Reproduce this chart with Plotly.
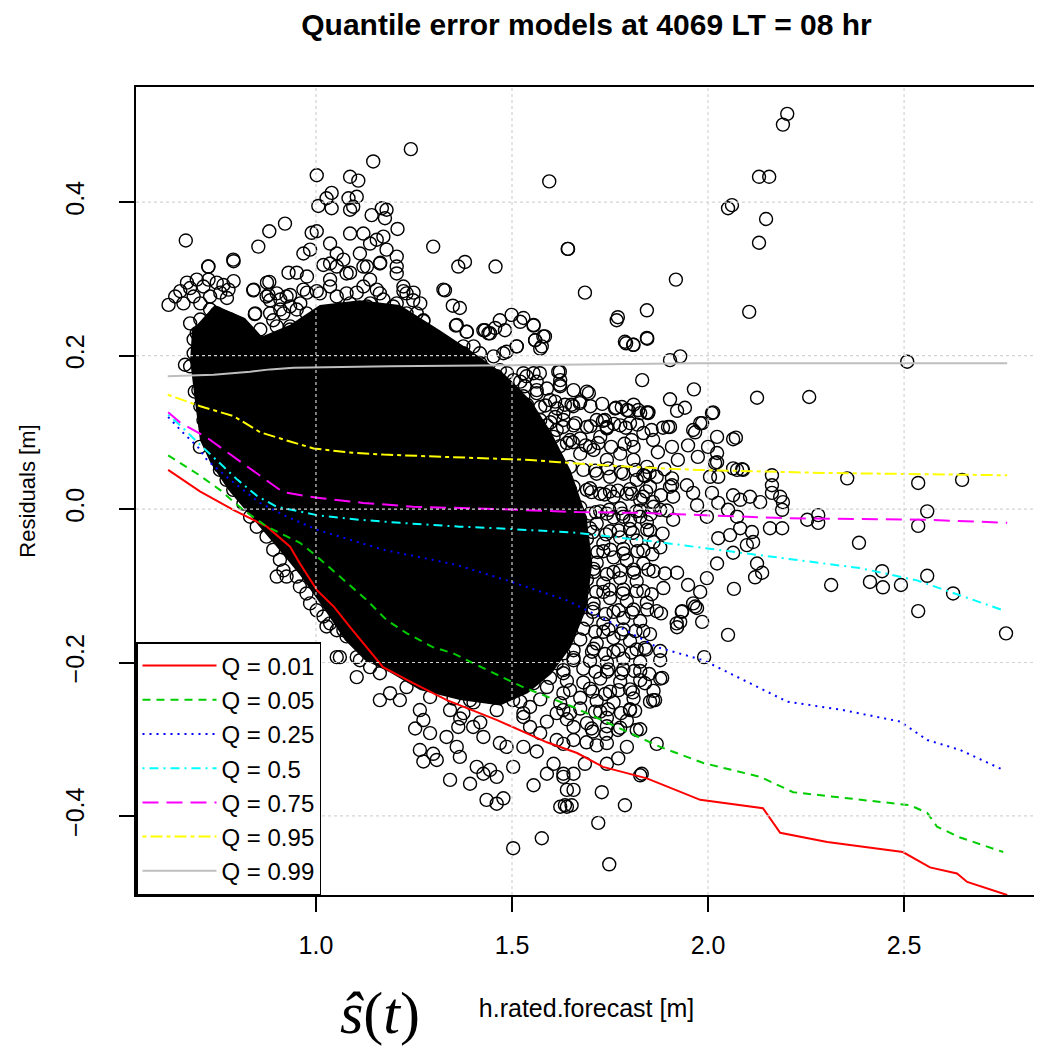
import plotly.graph_objects as go

# ---------------- quantile model lines ----------------
q01_x = [0.623, 0.66, 0.704, 0.789, 0.875, 0.934, 0.959, 1.003, 1.045, 1.087, 1.130, 1.171, 1.248, 1.334, 1.462, 1.589, 1.666, 1.732, 1.844, 1.980, 2.140, 2.184, 2.304, 2.497, 2.566, 2.635, 2.661, 2.763]
q01_y = [0.051, 0.038, 0.023, -0.001, -0.023, -0.049, -0.071, -0.106, -0.127, -0.154, -0.180, -0.206, -0.227, -0.249, -0.275, -0.304, -0.318, -0.336, -0.351, -0.379, -0.390, -0.422, -0.434, -0.447, -0.467, -0.475, -0.486, -0.503]

q05_x = [0.623, 0.70, 0.755, 0.814, 0.875, 0.959, 1.003, 1.061, 1.130, 1.181, 1.232, 1.298, 1.350, 1.401, 1.528, 1.656, 1.768, 1.878, 1.988, 2.133, 2.217, 2.388, 2.515, 2.559, 2.584, 2.643, 2.753]
q05_y = [0.070, 0.045, 0.025, -0.001, -0.023, -0.044, -0.062, -0.088, -0.119, -0.145, -0.162, -0.180, -0.188, -0.201, -0.232, -0.258, -0.284, -0.310, -0.331, -0.349, -0.369, -0.379, -0.386, -0.396, -0.414, -0.428, -0.447]

q25_x = [0.623, 0.66, 0.70, 0.722, 0.781, 0.857, 0.926, 1.003, 1.087, 1.171, 1.258, 1.360, 1.487, 1.640, 1.742, 1.870, 1.988, 2.100, 2.202, 2.344, 2.490, 2.559, 2.643, 2.753]
q25_y = [0.120, 0.100, 0.080, 0.064, 0.038, 0.008, -0.010, -0.027, -0.040, -0.053, -0.062, -0.073, -0.093, -0.119, -0.145, -0.180, -0.197, -0.225, -0.251, -0.262, -0.277, -0.301, -0.314, -0.340]

q50_x = [0.623, 0.66, 0.70, 0.75, 0.80, 0.85, 0.90, 1.003, 1.112, 1.214, 1.367, 1.462, 1.666, 1.872, 2.133, 2.388, 2.533, 2.643, 2.753]
q50_y = [0.123, 0.106, 0.086, 0.062, 0.038, 0.017, 0.003, -0.008, -0.014, -0.018, -0.023, -0.025, -0.031, -0.043, -0.060, -0.077, -0.093, -0.112, -0.132]

q75_x = [0.623, 0.653, 0.722, 0.780, 0.849, 0.916, 0.998, 1.120, 1.248, 1.462, 1.666, 1.827, 2.202, 2.559, 2.763]
q75_y = [0.126, 0.113, 0.093, 0.072, 0.047, 0.022, 0.015, 0.008, 0.003, 0.000, -0.004, -0.005, -0.012, -0.014, -0.018]

q95_x = [0.622, 0.705, 0.790, 0.858, 0.934, 0.994, 1.079, 1.172, 1.325, 1.546, 1.62, 1.80, 1.97, 2.30, 2.763]
q95_y = [0.149, 0.134, 0.121, 0.100, 0.088, 0.079, 0.074, 0.071, 0.068, 0.064, 0.061, 0.055, 0.051, 0.047, 0.044]

q99_x = [0.622, 0.739, 0.832, 0.883, 0.943, 1.070, 1.189, 1.62, 1.97, 2.763]
q99_y = [0.173, 0.175, 0.179, 0.182, 0.184, 0.185, 0.186, 0.188, 0.190, 0.190]

quant_labels = ["Q = 0.01", "Q = 0.05", "Q = 0.25", "Q = 0.5", "Q = 0.75", "Q = 0.95", "Q = 0.99"]

# ---------------- residual cloud ----------------
# heavily overlapping zone of the cloud (circles merge into solid black)
dense_x = [0.684, 0.742, 0.819, 0.862, 0.934, 1.010, 1.112, 1.214, 1.316, 1.393, 1.482, 1.550, 1.600, 1.650, 1.690, 1.705, 1.690, 1.650, 1.600, 1.540, 1.470, 1.367, 1.265, 1.189, 1.125, 1.074, 1.023, 0.959, 0.896, 0.832, 0.776, 0.730, 0.704, 0.691, 0.679]
dense_y = [0.233, 0.266, 0.249, 0.225, 0.240, 0.266, 0.272, 0.266, 0.233, 0.207, 0.175, 0.140, 0.100, 0.050, -0.010, -0.070, -0.130, -0.180, -0.215, -0.240, -0.256, -0.249, -0.236, -0.213, -0.197, -0.171, -0.132, -0.086, -0.047, -0.008, 0.025, 0.061, 0.090, 0.142, 0.194]

upper_left_pts = [
    (0.624, 0.266), (0.641, 0.277), (0.654, 0.284), (0.671, 0.295), (0.679, 0.288), (0.696, 0.299), (0.713, 0.290),
    (0.726, 0.299), (0.747, 0.295), (0.764, 0.292), (0.777, 0.286), (0.790, 0.297), (0.662, 0.268), (0.688, 0.277),
    (0.705, 0.268), (0.730, 0.277), (0.756, 0.282), (0.773, 0.275), (0.726, 0.316), (0.790, 0.323), (0.679, 0.186),
    (0.666, 0.188), (0.696, 0.229), (0.688, 0.221), (0.713, 0.216), (0.747, 0.242), (0.781, 0.247), (0.807, 0.234),
    (0.815, 0.225), (0.798, 0.216), (0.773, 0.212), (0.705, 0.247), (0.730, 0.260), (0.747, 0.255), (0.679, 0.242),
    (0.722, 0.195), (0.756, 0.199), (0.790, 0.195), (0.824, 0.195), (0.841, 0.190), (0.858, 0.216), (0.832, 0.221),
    (0.688, 0.203), (0.713, 0.208), (0.739, 0.212), (0.764, 0.203), (0.790, 0.208), (0.747, 0.182), (0.781, 0.182),
    (0.705, 0.182), (0.722, 0.229), (0.700, 0.155), (0.705, 0.134), (0.713, 0.116), (0.726, 0.090), (0.743, 0.073),
    (0.756, 0.056), (0.704, 0.081), (0.691, 0.153),
]

upper_mid_pts = [
    (0.841, 0.286), (0.875, 0.295), (0.879, 0.279), (0.909, 0.273), (0.934, 0.279), (0.845, 0.255), (0.883, 0.255),
    (0.909, 0.260), (0.934, 0.264), (0.960, 0.268), (0.977, 0.282), (0.951, 0.308), (0.977, 0.303), (0.968, 0.286),
    (1.002, 0.284), (1.019, 0.318), (1.036, 0.299), (1.053, 0.277), (1.087, 0.268), (1.104, 0.282), (1.130, 0.264),
    (1.155, 0.286), (1.172, 0.273), (1.189, 0.255), (1.206, 0.268), (1.223, 0.284), (1.249, 0.282), (1.266, 0.268),
    (1.274, 0.245), (1.257, 0.229), (1.232, 0.238), (1.325, 0.286), (1.138, 0.299), (1.164, 0.321), (1.206, 0.316),
    (1.087, 0.308), (1.053, 0.316), (1.130, 0.316), (0.900, 0.238), (0.934, 0.234), (0.968, 0.225), (0.900, 0.216),
    (0.858, 0.234), (1.002, 0.238), (1.045, 0.242), (1.087, 0.238), (1.121, 0.247), (1.172, 0.251), (1.215, 0.247),
    (1.070, 0.221), (1.104, 0.216), (1.155, 0.221), (1.189, 0.225), (1.223, 0.216), (1.257, 0.212), (1.291, 0.208),
    (1.317, 0.199), (1.019, 0.208), (1.053, 0.199), (1.087, 0.203), (1.130, 0.199), (1.172, 0.199), (1.215, 0.195),
    (1.257, 0.195), (1.300, 0.190), (1.342, 0.195), (0.934, 0.225), (0.951, 0.212), (0.917, 0.208), (0.977, 0.208),
    (0.943, 0.199), (0.900, 0.195), (0.866, 0.199),
    (1.036, 0.346), (1.053, 0.333), (1.070, 0.325), (1.087, 0.359), (1.121, 0.359), (1.138, 0.346), (1.155, 0.351),
    (1.172, 0.355), (1.180, 0.338), (1.112, 0.333), (1.036, 0.320), (1.078, 0.307), (1.121, 0.316), (1.163, 0.320),
    (1.206, 0.329), (1.206, 0.307), (1.223, 0.290), (1.231, 0.281), (1.248, 0.272), (1.257, 0.255), (1.231, 0.255),
    (1.197, 0.264), (1.163, 0.281), (1.121, 0.290), (1.078, 0.281), (1.036, 0.290), (1.010, 0.281), (1.138, 0.268),
    (1.104, 0.255), (1.061, 0.260), (1.019, 0.255), (0.976, 0.255), (0.951, 0.260), (0.925, 0.277), (0.900, 0.281),
    (0.883, 0.272), (0.917, 0.255), (0.934, 0.238), (0.891, 0.246),
]

upper_right_pts = [
    (1.359, 0.240), (1.385, 0.231), (1.427, 0.233), (1.440, 0.229), (1.457, 0.236), (1.482, 0.233), (1.555, 0.240),
    (1.521, 0.244), (1.512, 0.212), (1.559, 0.220), (1.580, 0.225), (1.572, 0.209), (1.767, 0.246), (1.788, 0.218),
    (1.810, 0.214), (1.845, 0.222), (1.618, 0.179), (1.623, 0.160), (1.691, 0.153), (1.674, 0.140), (1.652, 0.136),
    (1.763, 0.131), (1.793, 0.129), (1.822, 0.129), (1.848, 0.126), (1.737, 0.116), (1.742, 0.105), (1.776, 0.109),
    (1.835, 0.099), (1.856, 0.103), (1.805, 0.090), (1.810, 0.081), (1.835, 0.044), (1.529, 0.177), (1.555, 0.177),
    (1.521, 0.166), (1.563, 0.166), (1.533, 0.160), (1.563, 0.155), (1.589, 0.157), (1.512, 0.142), (1.538, 0.136),
    (1.572, 0.133), (1.610, 0.140), (1.635, 0.136), (1.542, 0.112), (1.572, 0.116), (1.589, 0.109), (1.610, 0.120),
    (1.631, 0.116), (1.657, 0.109), (1.691, 0.107), (1.716, 0.116), (1.742, 0.107), (1.674, 0.092), (1.699, 0.081),
    (1.725, 0.094), (1.325, 0.203), (1.351, 0.207), (1.376, 0.203), (1.402, 0.212), (1.419, 0.190), (1.453, 0.199),
    (1.478, 0.203), (1.342, 0.181), (1.368, 0.173), (1.393, 0.181), (1.427, 0.168), (1.461, 0.173), (1.487, 0.177),
    (1.334, 0.151), (1.359, 0.142), (1.393, 0.146), (1.419, 0.133), (1.453, 0.142), (1.478, 0.151), (1.495, 0.125),
    (1.461, 0.116), (1.427, 0.112), (1.385, 0.120), (1.351, 0.116), (1.325, 0.125), (1.487, 0.160), (1.402, 0.160),
    (1.444, 0.155), (1.368, 0.160), (1.401, 0.177), (1.435, 0.173), (1.469, 0.181), (1.504, 0.168), (1.537, 0.173),
    (1.571, 0.177), (1.623, 0.168), (1.657, 0.155), (1.529, 0.147), (1.563, 0.151), (1.597, 0.142), (1.631, 0.125),
    (1.546, 0.116), (1.614, 0.103), (1.648, 0.090), (1.580, 0.081), (1.537, 0.112), (1.427, 0.151), (1.461, 0.142),
    (1.504, 0.125), (1.418, 0.125), (1.452, 0.103), (1.376, 0.186), (1.333, 0.203), (1.291, 0.199), (1.376, 0.212),
    (1.418, 0.203),
    (1.557, 0.085), (1.590, 0.088), (1.622, 0.082), (1.655, 0.087), (1.688, 0.083), (1.720, 0.086), (1.753, 0.081),
    (1.787, 0.085), (1.565, 0.110), (1.598, 0.113), (1.630, 0.107), (1.662, 0.112), (1.700, 0.108), (1.760, 0.111),
    (1.790, 0.106), (1.820, 0.110), (1.585, 0.135), (1.615, 0.131), (1.700, 0.134), (1.730, 0.137), (1.780, 0.133),
    (1.810, 0.136),
]

middle_pts = [
    (1.504, 0.094), (1.538, 0.099), (1.572, 0.090), (1.606, 0.094), (1.640, 0.086), (1.674, 0.072), (1.708, 0.077),
    (1.742, 0.064), (1.776, 0.072), (1.810, 0.064), (1.844, 0.055), (1.869, 0.042), (1.512, 0.072), (1.546, 0.064),
    (1.580, 0.072), (1.614, 0.064), (1.648, 0.055), (1.682, 0.051), (1.716, 0.046), (1.750, 0.042), (1.784, 0.046),
    (1.818, 0.038), (1.852, 0.029), (1.521, 0.046), (1.555, 0.038), (1.589, 0.042), (1.623, 0.033), (1.657, 0.029),
    (1.691, 0.025), (1.725, 0.020), (1.759, 0.016), (1.793, 0.020), (1.827, 0.012), (1.861, 0.003), (1.529, 0.016),
    (1.563, 0.007), (1.597, 0.012), (1.631, 0.003), (1.665, -0.001), (1.699, -0.006), (1.742, -0.006), (1.784, -0.010),
    (1.504, 0.029), (1.538, -0.006), (1.827, -0.010),
    (1.504, -0.012), (1.546, -0.018), (1.589, -0.010), (1.631, -0.016), (1.674, -0.013), (1.716, -0.019), (1.759, -0.011),
    (1.801, -0.015), (1.844, -0.017),
    (1.521, -0.038), (1.563, -0.044), (1.606, -0.036), (1.648, -0.042), (1.691, -0.039), (1.733, -0.045), (1.776, -0.037),
    (1.818, -0.041), (1.861, -0.043),
    (1.504, -0.064), (1.546, -0.069), (1.589, -0.062), (1.631, -0.068), (1.674, -0.065), (1.716, -0.070), (1.759, -0.063),
    (1.793, -0.067), (1.835, -0.071),
    (1.521, -0.091), (1.563, -0.096), (1.606, -0.089), (1.648, -0.095), (1.691, -0.092), (1.733, -0.097), (1.776, -0.090),
    (1.818, -0.094),
    (1.504, -0.117), (1.546, -0.122), (1.589, -0.115), (1.631, -0.121), (1.674, -0.118), (1.708, -0.123), (1.750, -0.116),
    (1.793, -0.120), (1.844, -0.122),
    (1.521, -0.143), (1.563, -0.148), (1.606, -0.141), (1.648, -0.147), (1.691, -0.144), (1.733, -0.149), (1.784, -0.142),
    (1.827, -0.146),
    (1.504, -0.169), (1.546, -0.174), (1.589, -0.167), (1.631, -0.173), (1.674, -0.170), (1.716, -0.175), (1.759, -0.168),
    (1.801, -0.172),
    (1.402, -0.195), (1.444, -0.200), (1.487, -0.193), (1.529, -0.199), (1.572, -0.196), (1.614, -0.201), (1.657, -0.194),
    (1.699, -0.198), (1.742, -0.200), (1.784, -0.195), (1.827, -0.199),
    (1.334, -0.221), (1.376, -0.226), (1.427, -0.219), (1.470, -0.225), (1.512, -0.222), (1.555, -0.227), (1.597, -0.220),
    (1.640, -0.224), (1.682, -0.226), (1.725, -0.221), (1.776, -0.225), (1.827, -0.223),
    (1.351, -0.247), (1.402, -0.252), (1.461, -0.245), (1.521, -0.251), (1.572, -0.248), (1.623, -0.253), (1.674, -0.246),
    (1.716, -0.250), (1.759, -0.252), (1.810, -0.247), (1.852, -0.251),
    (1.368, -0.273), (1.419, -0.278), (1.529, -0.271), (1.589, -0.277), (1.640, -0.274), (1.691, -0.279), (1.742, -0.272),
    (1.793, -0.276),
    (1.648, 0.025), (1.699, 0.027), (1.750, 0.023), (1.801, 0.026),
    (1.631, -0.001), (1.674, 0.002), (1.725, -0.003), (1.776, 0.001), (1.827, -0.002),
    (1.648, -0.027), (1.699, -0.025), (1.750, -0.029), (1.801, -0.026), (1.852, -0.028),
    (1.631, -0.053), (1.682, -0.051), (1.733, -0.055), (1.784, -0.052), (1.835, -0.054), (1.878, -0.050),
    (1.657, -0.080), (1.708, -0.078), (1.759, -0.082), (1.810, -0.079), (1.861, -0.081),
    (1.631, -0.106), (1.682, -0.104), (1.733, -0.108), (1.784, -0.105), (1.835, -0.107), (1.886, -0.103),
    (1.657, -0.132), (1.708, -0.130), (1.759, -0.134), (1.810, -0.131), (1.869, -0.133),
    (1.631, -0.158), (1.682, -0.156), (1.733, -0.160), (1.784, -0.157), (1.835, -0.159),
    (1.657, -0.184), (1.708, -0.182), (1.759, -0.186), (1.818, -0.183), (1.878, -0.185),
    (1.631, -0.210), (1.682, -0.208), (1.742, -0.212), (1.784, -0.209), (1.827, -0.211),
    (1.648, -0.236), (1.699, -0.234), (1.750, -0.238), (1.801, -0.235), (1.861, -0.237),
    (1.631, -0.262), (1.674, -0.260), (1.725, -0.264), (1.801, -0.261),
    (1.657, -0.284), (1.703, -0.286), (1.742, -0.283), (1.776, -0.285), (1.827, -0.287),
    (1.631, -0.306), (1.690, -0.304), (1.716, -0.308), (1.742, -0.305),
]

middle_fill_pts = [
    (1.712, 0.050), (1.745, 0.053), (1.778, 0.048), (1.815, 0.051), (1.851, 0.047), (1.889, 0.052),
    (1.703, 0.022), (1.736, 0.019), (1.770, 0.024), (1.806, 0.020), (1.842, 0.023), (1.880, 0.018),
    (1.714, -0.004), (1.748, -0.001), (1.781, -0.006), (1.817, -0.003), (1.853, -0.007), (1.895, -0.002),
    (1.706, -0.030), (1.740, -0.033), (1.772, -0.028), (1.808, -0.031), (1.845, -0.027), (1.884, -0.032),
    (1.718, -0.056), (1.751, -0.053), (1.785, -0.058), (1.820, -0.055), (1.858, -0.059),
    (1.709, -0.082), (1.742, -0.085), (1.776, -0.080), (1.811, -0.083), (1.848, -0.079), (1.890, -0.084),
    (1.715, -0.108), (1.749, -0.105), (1.783, -0.110), (1.818, -0.107), (1.856, -0.111),
    (1.706, -0.134), (1.739, -0.137), (1.772, -0.132), (1.806, -0.135), (1.845, -0.131), (1.880, -0.136),
    (1.712, -0.160), (1.746, -0.157), (1.779, -0.162), (1.815, -0.159), (1.852, -0.163),
    (1.704, -0.186), (1.737, -0.189), (1.771, -0.184), (1.805, -0.187), (1.842, -0.183),
    (1.713, -0.212), (1.746, -0.209), (1.779, -0.214), (1.812, -0.211), (1.850, -0.215),
    (1.705, -0.238), (1.738, -0.241), (1.772, -0.236), (1.808, -0.239),
    (1.712, -0.264), (1.745, -0.261), (1.778, -0.266), (1.814, -0.263),
    (1.706, -0.290), (1.740, -0.293), (1.770, -0.288),
]

lower_pts = [
    (0.755, 0.051), (0.772, 0.038), (0.789, 0.025), (0.815, 0.007), (0.832, -0.010), (0.849, -0.023), (0.874, -0.036),
    (0.891, -0.053), (0.908, -0.066), (0.900, -0.088), (0.925, -0.088), (0.951, -0.088), (0.959, -0.101), (0.976, -0.110),
    (0.985, -0.123), (1.002, -0.132), (1.019, -0.140), (1.027, -0.153), (1.053, -0.158), (1.078, -0.166), (1.104, -0.171),
    (1.053, -0.193), (1.104, -0.193), (1.129, -0.184), (1.155, -0.188), (1.180, -0.188), (1.214, -0.193), (1.240, -0.184),
    (1.257, -0.193), (0.917, -0.080), (1.036, -0.149), (1.070, -0.158), (1.061, -0.193), (1.112, -0.197), (1.104, -0.219),
    (1.138, -0.206), (1.163, -0.214), (1.163, -0.249), (1.189, -0.240), (1.214, -0.249), (1.231, -0.232), (1.257, -0.214),
    (1.265, -0.262), (1.291, -0.245), (1.325, -0.227), (1.253, -0.286), (1.274, -0.275), (1.291, -0.292), (1.265, -0.314),
    (1.299, -0.319), (1.274, -0.329), (1.308, -0.327), (1.342, -0.353), (1.333, -0.297), (1.363, -0.284), (1.359, -0.310),
    (1.367, -0.323), (1.393, -0.358), (1.410, -0.336), (1.427, -0.345), (1.444, -0.340), (1.461, -0.349), (1.435, -0.379),
    (1.461, -0.384), (1.478, -0.377), (1.503, -0.336), (1.503, -0.442), (1.555, -0.360), (1.576, -0.429), (1.589, -0.345),
    (1.623, -0.388), (1.640, -0.388), (1.640, -0.366), (1.657, -0.366), (1.631, -0.349), (1.606, -0.332), (1.563, -0.316),
    (1.529, -0.310), (1.486, -0.310), (1.469, -0.305), (1.427, -0.297), (1.401, -0.284), (1.376, -0.266), (1.342, -0.262),
    (1.393, -0.249), (1.427, -0.232), (1.461, -0.262), (1.503, -0.249), (1.529, -0.266), (1.546, -0.284), (1.572, -0.292),
    (1.614, -0.301), (1.657, -0.301), (1.614, -0.266), (1.648, -0.266), (1.631, -0.240), (1.589, -0.232), (1.546, -0.223),
    (1.503, -0.214), (1.589, -0.206), (1.631, -0.214), (1.657, -0.197), (1.172, -0.166), (1.223, -0.180), (1.274, -0.188),
    (1.325, -0.197), (1.376, -0.206), (1.427, -0.197), (1.478, -0.188), (1.529, -0.197), (1.580, -0.180), (1.631, -0.188),
    (1.206, -0.206), (1.359, -0.232), (1.461, -0.232), (1.546, -0.258),
    (1.686, -0.332), (1.742, -0.332), (1.631, -0.345), (1.657, -0.345), (1.831, -0.345), (1.729, -0.369), (1.635, -0.386),
    (1.652, -0.386), (1.788, -0.386), (1.720, -0.409), (1.748, -0.463),
]

right_pts = [
    (2.202, 0.515), (2.191, 0.501), (2.130, 0.433), (2.156, 0.433), (2.051, 0.392), (2.061, 0.396), (2.148, 0.378),
    (2.130, 0.347), (1.643, 0.339), (1.918, 0.299), (1.686, 0.282), (2.105, 0.257), (1.844, 0.259), (1.770, 0.250),
    (1.844, 0.223), (1.791, 0.216), (1.809, 0.214), (1.903, 0.194), (1.929, 0.199), (2.508, 0.192), (1.622, 0.179),
    (1.622, 0.162), (1.832, 0.168), (1.696, 0.151), (1.964, 0.156), (2.125, 0.145), (2.258, 0.146), (1.656, 0.134),
    (1.673, 0.138), (1.765, 0.132), (1.798, 0.128), (1.827, 0.125), (1.847, 0.125), (1.903, 0.143), (1.921, 0.128),
    (1.941, 0.132), (2.010, 0.125), (1.732, 0.115), (1.742, 0.106), (1.801, 0.112), (1.980, 0.112), (1.967, 0.100),
    (1.885, 0.106), (1.903, 0.107), (1.949, 0.083), (2.023, 0.094), (2.064, 0.091), (2.071, 0.093), (2.023, 0.073),
    (2.018, 0.060), (1.974, 0.068), (1.923, 0.064), (1.839, 0.043), (2.064, 0.053), (2.087, 0.052), (2.163, 0.044),
    (2.163, 0.031), (2.355, 0.040), (2.536, 0.034), (2.648, 0.038), (2.005, 0.042), (2.026, 0.042), (1.908, 0.040),
    (1.908, 0.031), (1.946, 0.031),
    (1.844, 0.126), (2.013, 0.126), (1.985, 0.112), (1.962, 0.103), (1.898, 0.107), (1.860, 0.090), (1.872, 0.074),
    (1.908, 0.081), (2.000, 0.081), (2.023, 0.061), (2.074, 0.051), (2.089, 0.051), (2.163, 0.021), (1.903, 0.029),
    (1.911, 0.016), (1.962, 0.021), (2.010, 0.021), (2.026, 0.008), (2.064, 0.018), (2.082, 0.012), (2.107, 0.016),
    (2.133, 0.009), (2.184, 0.016), (2.191, 0.009), (2.189, -0.001), (2.051, -0.001), (2.074, -0.010), (1.972, 0.005),
    (1.997, -0.010), (1.911, -0.014), (1.860, 0.009), (1.878, -0.001), (1.834, 0.016),
    (2.559, -0.003), (2.536, -0.022), (2.253, -0.014), (2.281, -0.008), (2.281, -0.018), (2.385, -0.044), (2.444, -0.081),
    (2.413, -0.095), (2.446, -0.102), (2.492, -0.099), (2.314, -0.099), (2.559, -0.087), (2.625, -0.110), (2.536, -0.133),
    (2.760, -0.162), (2.051, -0.164), (2.066, -0.104), (1.990, -0.193), (2.023, -0.071), (1.997, -0.090), (1.980, -0.108),
    (1.962, -0.123), (1.972, -0.129), (1.934, -0.133), (1.985, -0.147), (1.921, -0.154), (1.929, -0.147), (1.921, -0.083),
    (1.949, -0.099), (2.064, -0.057), (2.026, -0.038), (2.056, -0.034), (2.120, -0.089), (2.138, -0.083), (2.125, -0.071),
    (2.115, -0.043), (2.099, -0.047), (2.082, -0.025), (2.112, -0.030), (2.158, -0.025), (2.189, -0.025), (1.883, -0.220),
    (1.839, -0.227), (1.860, -0.249), (1.878, -0.197), (1.839, -0.181), (1.920, -0.149), (1.933, -0.134), (1.967, -0.127),
    (1.878, -0.221), (1.865, -0.249), (1.818, -0.288), (1.801, -0.262), (1.793, -0.310), (1.869, -0.306), (1.827, -0.347),
    (1.771, -0.325),
]

top_outlier_pts = [
    (1.242, 0.469), (1.146, 0.453), (1.002, 0.435), (1.087, 0.433), (1.108, 0.428), (1.040, 0.412), (1.027, 0.405),
    (1.040, 0.392), (1.083, 0.405), (1.104, 0.407), (1.095, 0.394), (1.087, 0.390), (1.006, 0.395), (1.168, 0.392),
    (1.180, 0.390), (1.142, 0.383), (1.176, 0.379), (1.208, 0.365), (1.595, 0.427), (1.642, 0.339), (1.299, 0.342),
    (1.363, 0.316), (1.380, 0.322), (1.458, 0.316), (1.329, 0.285), (1.349, 0.265), (1.367, 0.262), (1.357, 0.239),
    (1.384, 0.231), (1.431, 0.233), (1.444, 0.229), (1.469, 0.246), (1.499, 0.253), (1.529, 0.249), (1.555, 0.239),
    (1.584, 0.225), (1.559, 0.220), (1.576, 0.212), (1.512, 0.212), (1.486, 0.205), (1.274, 0.246), (1.265, 0.227),
    (1.253, 0.225), (0.668, 0.350), (0.789, 0.325), (0.853, 0.342), (0.881, 0.362), (0.921, 0.372), (0.725, 0.316),
    (0.930, 0.308), (0.881, 0.296), (0.840, 0.285), (0.874, 0.277), (0.844, 0.254), (0.968, 0.333), (0.989, 0.360),
    (1.002, 0.362), (0.985, 0.338),
]

all_pts = (upper_left_pts + upper_mid_pts + upper_right_pts + middle_pts + middle_fill_pts
           + lower_pts + right_pts + top_outlier_pts)
pts_x = [p[0] for p in all_pts]
pts_y = [p[1] for p in all_pts]

x_ticks = [1.0, 1.5, 2.0, 2.5]
y_ticks = [-0.4, -0.2, 0.0, 0.2, 0.4]
y_ticktext = ["\u22120.4", "\u22120.2", "0.0", "0.2", "0.4"]

# ---------------- figure ----------------
FONT = "Liberation Sans, Arial, sans-serif"
W, H = 1034, 1038          # page body adds an 8 px margin on each side
fig = go.Figure()

fig.add_trace(go.Scatter(
    x=dense_x + dense_x[:1], y=dense_y + dense_y[:1], mode="lines", fill="toself",
    fillcolor="black", line=dict(color="black", width=0), showlegend=False, hoverinfo="skip"))

fig.add_trace(go.Scatter(
    x=pts_x, y=pts_y, mode="markers", showlegend=False,
    marker=dict(symbol="circle-open", size=13, color="black", line=dict(width=1.4, color="black"))))

line_specs = [
    (q01_x, q01_y, "#FF0000", "solid"),
    (q05_x, q05_y, "#00CD00", "8px,6px"),
    (q25_x, q25_y, "#0000FF", "2px,5px"),
    (q50_x, q50_y, "#00FFFF", "2px,5px,9px,5px"),
    (q75_x, q75_y, "#FF00FF", "16px,8px"),
    (q95_x, q95_y, "#FFFF00", "4px,4px,12px,4px"),
    (q99_x, q99_y, "#BEBEBE", "solid"),
]
for (lx, ly, col, dash), name in zip(line_specs, quant_labels):
    fig.add_trace(go.Scatter(x=lx, y=ly, mode="lines", name=name,
                             line=dict(color=col, width=2, dash=dash)))

shapes = []
for v in x_ticks:
    shapes.append(dict(type="line", xref="x", yref="paper", x0=v, x1=v, y0=0, y1=1, layer="above",
                       line=dict(color="#D3D3D3", width=1.2, dash="dot")))
for v in y_ticks:
    shapes.append(dict(type="line", xref="paper", yref="y", x0=0, x1=1, y0=v, y1=v, layer="above",
                       line=dict(color="#D3D3D3", width=1.2, dash="dot")))

fig.update_layout(
    width=W, height=H,
    margin=dict(l=128, r=5, t=79, b=151, autoexpand=False),
    paper_bgcolor="white", plot_bgcolor="white",
    font=dict(family=FONT, color="black", size=25),
    title=dict(text="<b>Quantile error models at 4069 LT = 08 hr</b>", x=0.5, xref="paper",
               y=1 - 16 / H, yref="container", yanchor="middle", xanchor="center",
               font=dict(size=30, family=FONT, color="black")),
    shapes=shapes,
    showlegend=True,
    legend=dict(x=0, y=0, xanchor="left", yanchor="bottom", bgcolor="white", bordercolor="black",
                borderwidth=1.5, font=dict(size=24, family=FONT), itemwidth=74, tracegroupgap=0,
                traceorder="normal"),
    annotations=[dict(text="<i>\u015d</i>(<i>t</i>)", xref="paper", yref="paper", x=(380 - 136) / 901,
                      y=(895 - 1013) / 808, showarrow=False, xanchor="center", yanchor="middle",
                      font=dict(family="Liberation Serif, Times New Roman, serif", size=60, color="black"))],
)

fig.update_xaxes(range=[0.541, 2.839], tickvals=x_ticks, ticktext=["%.1f" % v for v in x_ticks],
                 ticks="outside", ticklen=15, tickwidth=1.5, tickcolor="black", automargin=False,
                 showline=True, mirror=True, linecolor="black", linewidth=1.5, ticklabelstandoff=12,
                 showgrid=False, zeroline=False, tickfont=dict(size=25),
                 title=dict(text="h.rated.forecast [m]", font=dict(size=25), standoff=42))
fig.update_yaxes(range=[-0.503, 0.55], tickvals=y_ticks, ticktext=y_ticktext, tickangle=-90,
                 ticks="outside", ticklen=15, tickwidth=1.5, tickcolor="black", automargin=False,
                 showline=True, mirror=True, linecolor="black", linewidth=1.5, ticklabelstandoff=25,
                 showgrid=False, zeroline=False, tickfont=dict(size=25),
                 title=dict(text="Residuals [m]", font=dict(size=22), standoff=20))

fig.write_html("out.html")
